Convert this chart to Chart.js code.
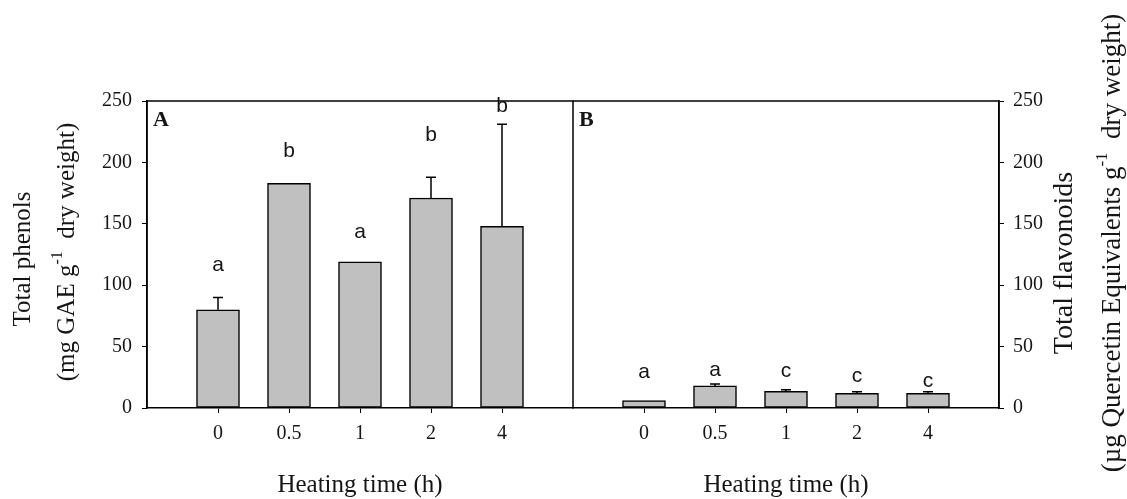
<!DOCTYPE html>
<html>
<head>
<meta charset="utf-8">
<script src="https://cdn.jsdelivr.net/npm/chart.js@4.4.1/dist/chart.umd.min.js"></script>
<style>
  body { margin: 0; background: #fff; }
  #wrap { position: relative; width: 1127px; height: 499px; overflow: hidden; background: #fff; }
  canvas { position: absolute; top: 0; }
  #chartA { left: 0; }
  #chartB { left: 563px; }
</style>
</head>
<body>
<div id="wrap">
  <canvas id="chartA" width="583" height="499"></canvas>
  <canvas id="chartB" width="564" height="499"></canvas>
</div>
<script>
// Heating time categories and shared y ticks
const heatingTimes = ['0', '0.5', '1', '2', '4'];
const yTicks = [0, 50, 100, 150, 200, 250];

// Panel A - total phenols
const phenols = [80, 183, 119, 171, 148];
const phenolsErr = [10, 0, 0, 17, 83];
const phenolsLetters = ['a', 'b', 'a', 'b', 'b'];
const phenolsLetterY = [116, 209, 143, 222, 246];

// Panel B - total flavonoids
const flavonoids = [6, 18, 13.5, 12, 12];
const flavonoidsErr = [0, 1.5, 1.4, 1.2, 1.2];
const flavonoidsLetters = ['a', 'a', 'c', 'c', 'c'];
const flavonoidsLetterY = [29, 31, 30, 26, 22];

const SERIF = '"Liberation Serif", "Times New Roman", serif';
const SANS = '"Liberation Sans", Arial, sans-serif';
const INK = '#151515';

// empty slot on each side so bars sit one step in from the frame
const paddedLabels = ['', ...heatingTimes, ''];
const pad = arr => [null, ...arr, null];

// draw rotated (bottom-to-top) text with optional superscript pieces
function drawVerticalText(ctx, x, y, parts, size) {
    ctx.save();
    ctx.translate(x, y);
    ctx.rotate(-Math.PI / 2);
    ctx.textAlign = 'left';
    ctx.textBaseline = 'middle';
    ctx.fillStyle = INK;
    let total = 0;
    const widths = parts.map(p => {
        ctx.font = (p.sup ? Math.round(size * 0.62) : size) + 'px ' + SERIF;
        const w = ctx.measureText(p.t).width;
        total += w;
        return w;
    });
    let cx = -total / 2;
    parts.forEach((p, i) => {
        ctx.font = (p.sup ? Math.round(size * 0.62) : size) + 'px ' + SERIF;
        ctx.fillText(p.t, cx, p.sup ? -size * 0.38 : 0);
        cx += widths[i];
    });
    ctx.restore();
}

function makeDecor(opts) {
    return {
        id: 'decor' + opts.panel,
        afterDatasetsDraw(chart) {
            const ctx = chart.ctx;
            const area = chart.chartArea;
            const xs = chart.scales.x;
            const ys = chart.scales.y;

            // frame (panel B shares its left edge with panel A)
            ctx.save();
            ctx.strokeStyle = '#000';
            ctx.lineWidth = 1.5;
            ctx.beginPath();
            if (opts.drawLeftEdge) {
                ctx.moveTo(area.left, area.bottom);
                ctx.lineTo(area.left, area.top);
            } else {
                ctx.moveTo(area.left, area.top);
            }
            ctx.lineTo(area.right, area.top);
            ctx.lineTo(area.right, area.bottom);
            ctx.stroke();

            // error bars (upper only)
            opts.values.forEach((v, i) => {
                const e = opts.errors[i];
                if (!e) return;
                const x = xs.getPixelForValue(i + 1);
                const y0 = ys.getPixelForValue(v);
                const y1 = ys.getPixelForValue(v + e);
                ctx.beginPath();
                ctx.moveTo(x, y0);
                ctx.lineTo(x, y1);
                ctx.moveTo(x - 5, y1);
                ctx.lineTo(x + 5, y1);
                ctx.stroke();
            });

            // significance letters
            ctx.fillStyle = INK;
            ctx.font = '21px ' + SANS;
            ctx.textAlign = 'center';
            ctx.textBaseline = 'middle';
            opts.letters.forEach((l, i) => {
                ctx.fillText(l, xs.getPixelForValue(i + 1), ys.getPixelForValue(opts.letterY[i]));
            });

            // panel label
            ctx.font = 'bold 22px ' + SERIF;
            ctx.textAlign = 'left';
            ctx.fillText(opts.panel, area.left + 6, area.top + 19);

            // x title
            ctx.font = '25px ' + SERIF;
            ctx.textAlign = 'center';
            ctx.fillText('Heating time (h)', (area.left + area.right) / 2, 485);
            ctx.restore();

            // y titles
            opts.yTitles.forEach(t => drawVerticalText(ctx, t.x, t.y, t.parts, t.size));
        }
    };
}

function buildChart(id, opts) {
    const ctx = document.getElementById(id).getContext('2d');
    const last = paddedLabels.length - 1;
    return new Chart(ctx, {
        type: 'bar',
        data: {
            labels: paddedLabels,
            datasets: [{
                data: pad(opts.values),
                backgroundColor: '#c0c0c0',
                borderColor: '#000',
                borderWidth: 1.5,
                borderSkipped: false,
                barThickness: 43
            }]
        },
        options: {
            responsive: false,
            devicePixelRatio: 1,
            animation: false,
            layout: { padding: opts.padding },
            plugins: { legend: { display: false }, tooltip: { enabled: false } },
            scales: {
                x: {
                    offset: false,
                    grid: {
                        offset: false,
                        drawOnChartArea: false,
                        tickLength: 5,
                        lineWidth: 1,
                        color: c => (c.index === 0 || c.index === last) ? 'rgba(0,0,0,0)' : '#000'
                    },
                    border: { display: true, color: '#000', width: 1.5 },
                    ticks: {
                        color: INK,
                        font: { family: SERIF, size: 20 },
                        padding: 9,
                        maxRotation: 0,
                        autoSkip: false
                    },
                    afterFit: s => { s.height = 91; }
                },
                y: {
                    position: opts.yPos,
                    min: yTicks[0],
                    max: yTicks[yTicks.length - 1],
                    grid: { drawOnChartArea: false, tickLength: 5, color: '#000', lineWidth: 1 },
                    border: { display: true, color: '#000', width: 1.5 },
                    ticks: {
                        stepSize: yTicks[1] - yTicks[0],
                        color: INK,
                        font: { family: SERIF, size: 20 },
                        padding: opts.yPos === 'left' ? 10 : 9
                    },
                    afterFit: s => { s.width = opts.yWidth; }
                }
            }
        },
        plugins: [makeDecor(opts)]
    });
}

buildChart('chartA', {
    panel: 'A',
    values: phenols,
    errors: phenolsErr,
    letters: phenolsLetters,
    letterY: phenolsLetterY,
    yPos: 'left',
    yWidth: 147,
    drawLeftEdge: true,
    padding: { top: 101, right: 10, left: 0, bottom: 0 },
    yTitles: [
        { x: 23, y: 259, size: 25, parts: [{ t: 'Total phenols' }] },
        { x: 67, y: 252, size: 25, parts: [{ t: '(mg GAE g' }, { t: '-1', sup: true }, { t: '  dry weight)' }] }
    ]
});

buildChart('chartB', {
    panel: 'B',
    values: flavonoids,
    errors: flavonoidsErr,
    letters: flavonoidsLetters,
    letterY: flavonoidsLetterY,
    yPos: 'right',
    yWidth: 128,
    drawLeftEdge: false,
    padding: { top: 101, right: 0, left: 10, bottom: 0 },
    yTitles: [
        { x: 502, y: 263, size: 28, parts: [{ t: 'Total flavonoids' }] },
        { x: 550, y: 243, size: 27, parts: [{ t: '(\u00b5g Quercetin Equivalents g' }, { t: '-1', sup: true }, { t: '  dry weight)' }] }
    ]
});
</script>
</body>
</html>
